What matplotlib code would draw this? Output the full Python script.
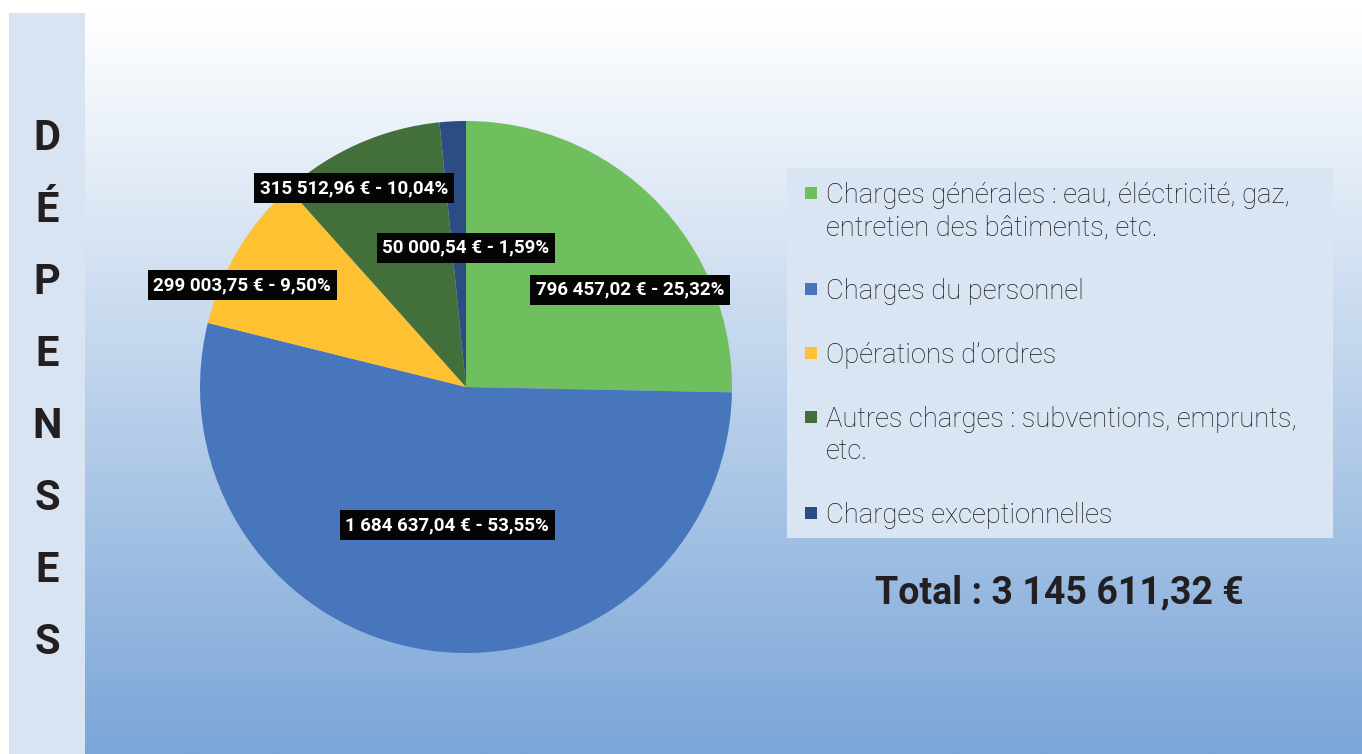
import matplotlib

matplotlib.use("Agg")
import matplotlib.pyplot as plt
import numpy as np
from matplotlib.colors import to_rgb
from matplotlib.patches import Rectangle

# --- data -------------------------------------------------------------------
categories = [
    "Charges générales : eau, éléctricité, gaz,\nentretien des bâtiments, etc.",
    "Charges du personnel",
    "Opérations d’ordres",
    "Autres charges : subventions, emprunts,\netc.",
    "Charges exceptionnelles",
]
amounts = [796457.02, 1684637.04, 299003.75, 315512.96, 50000.54]
amount_labels = ["796 457,02 €", "1 684 637,04 €", "299 003,75 €",
                 "315 512,96 €", "50 000,54 €"]
pct_labels = ["25,32%", "53,55%", "9,50%", "10,04%", "1,59%"]
total_label = "Total : 3 145 611,32 €"
side_title = "DÉPENSES"

colors = ["#6fbf5e", "#4876bc", "#fec131", "#426f3a", "#2b4d84"]
# label centres, in units of the pie radius
label_pos = [(0.617, 0.365), (-0.071, -0.519), (-0.842, 0.383),
             (-0.421, 0.748), (0.0, 0.523)]

W, H = 1362, 754
fig = plt.figure(figsize=(W / 100, H / 100), dpi=100)

# --- background in pixel coordinates ---------------------------------------
bg = fig.add_axes([0, 0, 1, 1])
bg.set_xlim(0, W)
bg.set_ylim(H, 0)
bg.axis("off")

top = np.array(to_rgb("#ffffff"))
bot = np.array(to_rgb("#7ba6d8"))
t = np.linspace(0, 1, 400)[:, None]
grad = (top * (1 - t) + bot * t)[:, None, :]
bg.imshow(grad, extent=[85, W, H, 13], aspect="auto", origin="upper",
          interpolation="bilinear")
bg.add_patch(Rectangle((9, 13), 76, H - 13, color="#d9e4f2", lw=0))

for i, ch in enumerate(side_title):
    bg.text(47, 150 + 72 * i, ch, ha="center", va="baseline",
            fontsize=30, fontfamily="Roboto", fontweight="bold",
            color="#231f20")

# --- legend box (drawn by hand so markers sit on the first line) -----------
bg.add_patch(Rectangle((787, 168), 546, 370, color="#dae5f3", lw=0))
y = 193
for lab, col in zip(categories, colors):
    lines = lab.split("\n")
    bg.add_patch(Rectangle((805, y - 6), 12, 12, color=col, lw=0))
    for j, line in enumerate(lines):
        bg.text(826, y + 10 + 32 * j, line, ha="left", va="baseline",
                fontsize=19.7, fontfamily="Roboto", fontweight="light",
                color="#1a1a1a")
    y += 32 * len(lines) + 32

bg.text(1059, 603, total_label, ha="center", va="baseline", fontsize=27,
        fontfamily="Roboto", fontweight="bold", color="#231f20")

# --- pie --------------------------------------------------------------------
cx, cy, r = 466, 387, 266
ax = fig.add_axes([(cx - r) / W, (H - cy - r) / H, 2 * r / W, 2 * r / H])
ax.pie(amounts, colors=colors, startangle=90, counterclock=False,
       radius=1.0, wedgeprops=dict(linewidth=0))
ax.set_xlim(-1, 1)
ax.set_ylim(-1, 1)
ax.set_aspect("equal")
ax.axis("off")

for (lx, ly), a, p in zip(label_pos, amount_labels, pct_labels):
    ax.text(lx, ly, f"{a} - {p}", ha="center", va="center", fontsize=13.5,
            fontfamily="Roboto", fontweight="bold", color="white",
            bbox=dict(boxstyle="square,pad=0.3", fc="#050505", ec="none"))

fig.savefig("out.png", dpi=100)
